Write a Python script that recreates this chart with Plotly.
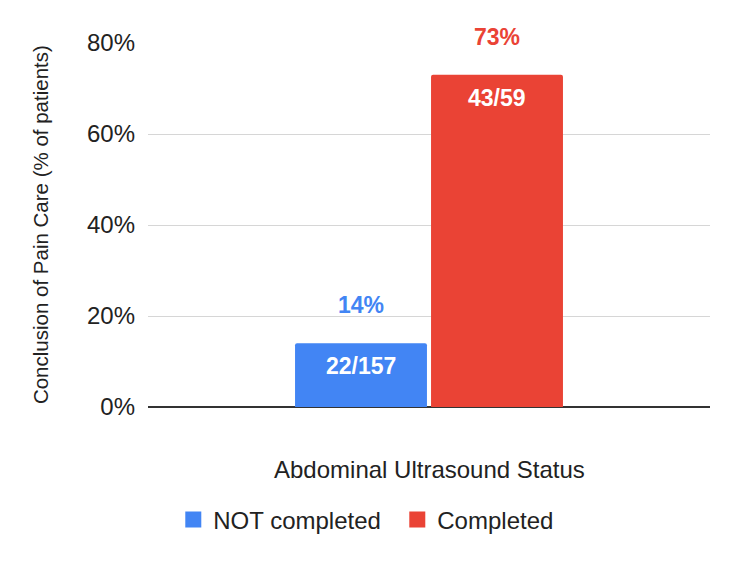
import plotly.graph_objects as go

categories = [""]
series_names = ["NOT completed", "Completed"]
values = [0.14, 0.73]
fractions = ["22/157", "43/59"]
pct_labels = ["14%", "73%"]
colors = ["#4285F4", "#EA4335"]
y_ticks = [0, 0.2, 0.4, 0.6, 0.8]
y_tick_labels = ["0%", "20%", "40%", "60%", "80%"]

FONT = "Liberation Sans, Arial, sans-serif"
TXT = "#222222"
BARGAP = 0.516

fig = go.Figure()
for i, name in enumerate(series_names):
    fig.add_trace(go.Bar(
        x=categories, y=[values[i]], name=name, showlegend=False,
        marker=dict(color=colors[i], line=dict(width=0), cornerradius=2),
        offsetgroup=str(i),
    ))
# legend entries with larger square swatches
for i, name in enumerate(series_names):
    fig.add_trace(go.Scatter(
        x=[None], y=[None], mode="markers", name=name,
        marker=dict(symbol="square", size=18, color=colors[i]),
    ))

annotations = []
n = len(series_names)
group_w = 1 - BARGAP
bar_w = group_w / n
for i in range(n):
    xoff = -group_w / 2 + bar_w * (i + 0.5)
    annotations.append(dict(
        x=xoff, xref="x", y=values[i], yref="y", text="<b>%s</b>" % fractions[i],
        showarrow=False, yanchor="middle", yshift=-23,
        font=dict(family=FONT, size=23, color="white")))
    annotations.append(dict(
        x=xoff, xref="x", y=values[i], yref="y", text="<b>%s</b>" % pct_labels[i],
        showarrow=False, yanchor="middle", yshift=38,
        font=dict(family=FONT, size=23, color=colors[i])))

annotations.append(dict(
    x=0.5, xref="paper", y=-0.173, yref="paper", text="Abdominal Ultrasound Status",
    showarrow=False, xanchor="center", yanchor="middle",
    font=dict(family=FONT, size=24, color=TXT)))
annotations.append(dict(
    x=-0.192, xref="paper", y=0.5, yref="paper", text="Conclusion of Pain Care (% of patients)",
    showarrow=False, textangle=-90, xanchor="center", yanchor="middle",
    font=dict(family=FONT, size=20.5, color=TXT)))

fig.update_layout(
    width=750, height=563,
    margin=dict(l=148, r=40, t=43, b=156),
    paper_bgcolor="white", plot_bgcolor="white",
    barmode="group", bargap=BARGAP, bargroupgap=0.03,
    showlegend=True,
    legend=dict(orientation="h", x=0.045, xanchor="left", y=-0.31, yanchor="middle",
                font=dict(family=FONT, size=24, color=TXT),
                itemwidth=30, traceorder="normal",
                entrywidth=179, entrywidthmode="pixels"),
    annotations=annotations,
    font=dict(family=FONT, color=TXT),
)
fig.update_xaxes(type="category", range=[-0.5, 0.5], showticklabels=False, showgrid=False,
                 showline=False, zeroline=False, ticks="")
fig.update_yaxes(range=[0, 0.8], tickvals=y_ticks, ticktext=y_tick_labels,
                 showgrid=True, gridcolor="#d6d6d6", gridwidth=1,
                 zeroline=True, zerolinecolor="#333333", zerolinewidth=1.5,
                 tickfont=dict(family=FONT, size=24, color=TXT),
                 ticklabelstandoff=12, showline=False, ticks="")

fig.write_html("out.html")
